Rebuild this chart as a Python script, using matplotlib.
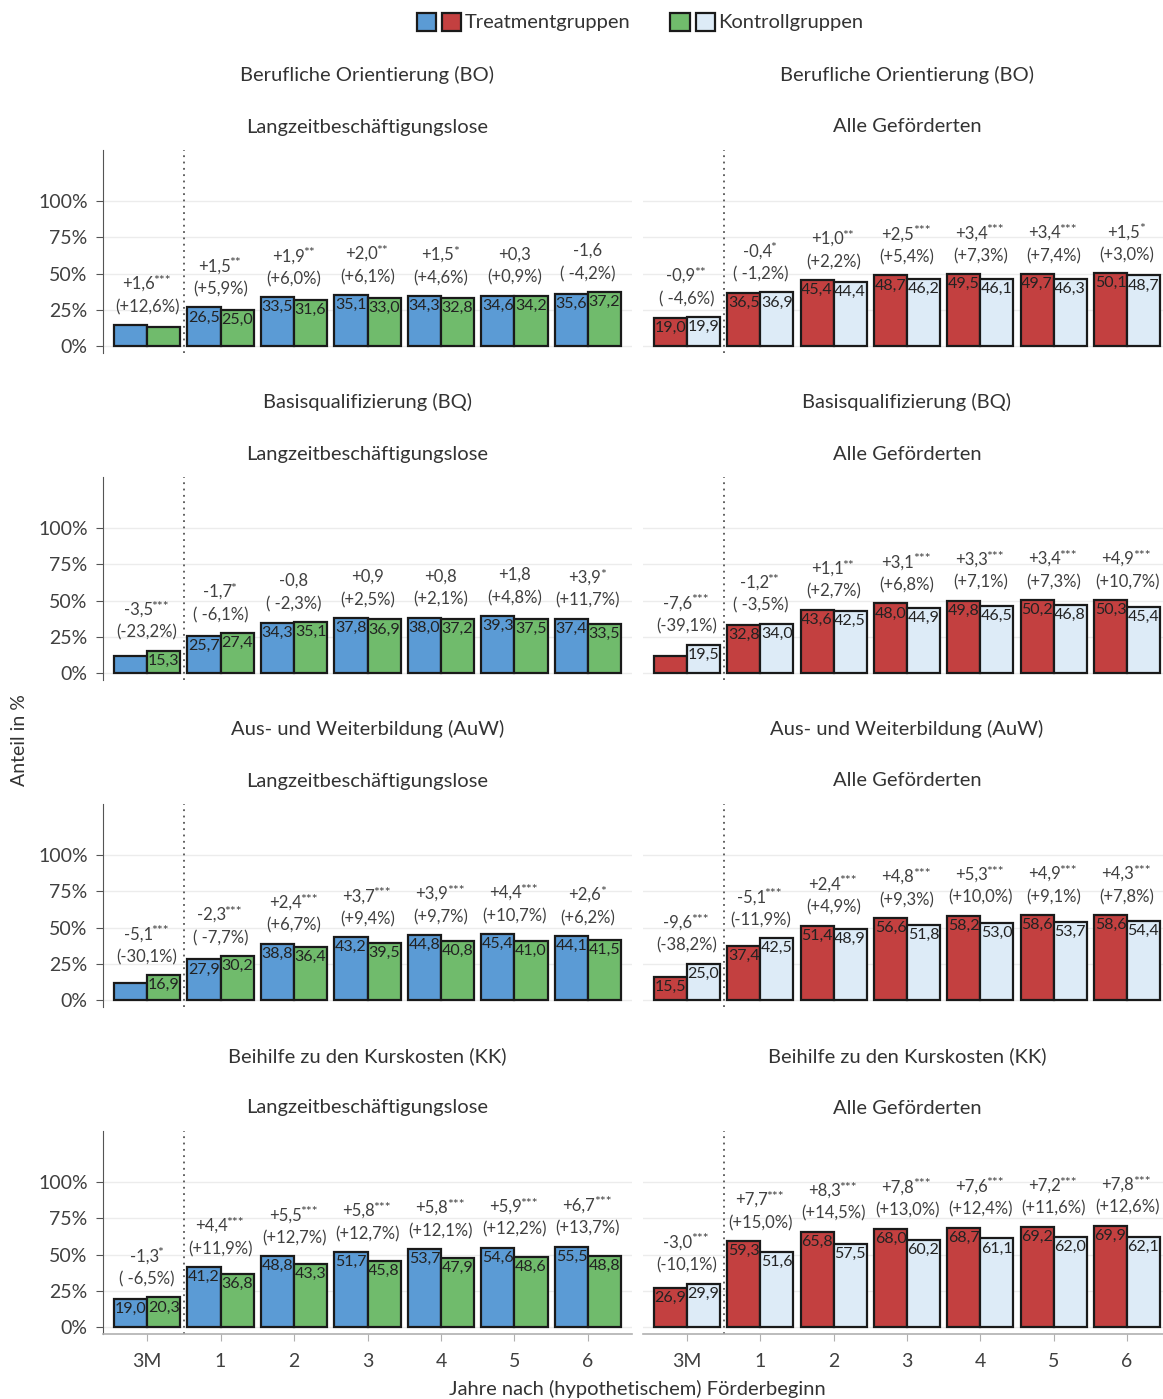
import matplotlib
matplotlib.use("Agg")
import matplotlib.pyplot as plt
from matplotlib.patches import Patch
from matplotlib.legend_handler import HandlerTuple

plt.rcParams['font.family'] = ['Lato', 'DejaVu Sans']

# Achsenbeschriftung der Gruppen
perioden = ["3M", "1", "2", "3", "4", "5", "6"]

programme = ["Berufliche Orientierung (BO)", "Basisqualifizierung (BQ)",
             "Aus- und Weiterbildung (AuW)", "Beihilfe zu den Kurskosten (KK)"]
gruppen = ["Langzeitbeschäftigungslose", "Alle Geförderten"]

# Langzeitbeschäftigungslose (links): Treatment / Kontrolle
bo_lzb_t = [14.3, 26.5, 33.5, 35.1, 34.3, 34.6, 35.6]
bo_lzb_k = [12.7, 25.0, 31.6, 33.0, 32.8, 34.2, 37.2]
bo_lzb_d = ["+1,6***", "+1,5**", "+1,9**", "+2,0**", "+1,5*", "+0,3", "-1,6"]
bo_lzb_p = ["(+12,6%)", "(+5,9%)", "(+6,0%)", "(+6,1%)", "(+4,6%)", "(+0,9%)", "( -4,2%)"]

bq_lzb_t = [11.8, 25.7, 34.3, 37.8, 38.0, 39.3, 37.4]
bq_lzb_k = [15.3, 27.4, 35.1, 36.9, 37.2, 37.5, 33.5]
bq_lzb_d = ["-3,5***", "-1,7*", "-0,8", "+0,9", "+0,8", "+1,8", "+3,9*"]
bq_lzb_p = ["(-23,2%)", "( -6,1%)", "( -2,3%)", "(+2,5%)", "(+2,1%)", "(+4,8%)", "(+11,7%)"]

auw_lzb_t = [11.8, 27.9, 38.8, 43.2, 44.8, 45.4, 44.1]
auw_lzb_k = [16.9, 30.2, 36.4, 39.5, 40.8, 41.0, 41.5]
auw_lzb_d = ["-5,1***", "-2,3***", "+2,4***", "+3,7***", "+3,9***", "+4,4***", "+2,6*"]
auw_lzb_p = ["(-30,1%)", "( -7,7%)", "(+6,7%)", "(+9,4%)", "(+9,7%)", "(+10,7%)", "(+6,2%)"]

kk_lzb_t = [19.0, 41.2, 48.8, 51.7, 53.7, 54.6, 55.5]
kk_lzb_k = [20.3, 36.8, 43.3, 45.8, 47.9, 48.6, 48.8]
kk_lzb_d = ["-1,3*", "+4,4***", "+5,5***", "+5,8***", "+5,8***", "+5,9***", "+6,7***"]
kk_lzb_p = ["( -6,5%)", "(+11,9%)", "(+12,7%)", "(+12,7%)", "(+12,1%)", "(+12,2%)", "(+13,7%)"]

# Alle Geförderten (rechts)
bo_alle_t = [19.0, 36.5, 45.4, 48.7, 49.5, 49.7, 50.1]
bo_alle_k = [19.9, 36.9, 44.4, 46.2, 46.1, 46.3, 48.7]
bo_alle_d = ["-0,9**", "-0,4*", "+1,0**", "+2,5***", "+3,4***", "+3,4***", "+1,5*"]
bo_alle_p = ["( -4,6%)", "( -1,2%)", "(+2,2%)", "(+5,4%)", "(+7,3%)", "(+7,4%)", "(+3,0%)"]

bq_alle_t = [11.9, 32.8, 43.6, 48.0, 49.8, 50.2, 50.3]
bq_alle_k = [19.5, 34.0, 42.5, 44.9, 46.5, 46.8, 45.4]
bq_alle_d = ["-7,6***", "-1,2**", "+1,1**", "+3,1***", "+3,3***", "+3,4***", "+4,9***"]
bq_alle_p = ["(-39,1%)", "( -3,5%)", "(+2,7%)", "(+6,8%)", "(+7,1%)", "(+7,3%)", "(+10,7%)"]

auw_alle_t = [15.5, 37.4, 51.4, 56.6, 58.2, 58.6, 58.6]
auw_alle_k = [25.0, 42.5, 48.9, 51.8, 53.0, 53.7, 54.4]
auw_alle_d = ["-9,6***", "-5,1***", "+2,4***", "+4,8***", "+5,3***", "+4,9***", "+4,3***"]
auw_alle_p = ["(-38,2%)", "(-11,9%)", "(+4,9%)", "(+9,3%)", "(+10,0%)", "(+9,1%)", "(+7,8%)"]

kk_alle_t = [26.9, 59.3, 65.8, 68.0, 68.7, 69.2, 69.9]
kk_alle_k = [29.9, 51.6, 57.5, 60.2, 61.1, 62.0, 62.1]
kk_alle_d = ["-3,0***", "+7,7***", "+8,3***", "+7,8***", "+7,6***", "+7,2***", "+7,8***"]
kk_alle_p = ["(-10,1%)", "(+15,0%)", "(+14,5%)", "(+13,0%)", "(+12,4%)", "(+11,6%)", "(+12,6%)"]

panels = [
    [(bo_lzb_t, bo_lzb_k, bo_lzb_d, bo_lzb_p), (bo_alle_t, bo_alle_k, bo_alle_d, bo_alle_p)],
    [(bq_lzb_t, bq_lzb_k, bq_lzb_d, bq_lzb_p), (bq_alle_t, bq_alle_k, bq_alle_d, bq_alle_p)],
    [(auw_lzb_t, auw_lzb_k, auw_lzb_d, auw_lzb_p), (auw_alle_t, auw_alle_k, auw_alle_d, auw_alle_p)],
    [(kk_lzb_t, kk_lzb_k, kk_lzb_d, kk_lzb_p), (kk_alle_t, kk_alle_k, kk_alle_d, kk_alle_p)],
]

farben = [("#5b9bd5", "#70bb6c"), ("#c34040", "#ddebf7")]
TXT = "#333333"
ANN = "#404040"
EC = "#1a1a1a"

W, H = 1163, 1399
fig = plt.figure(figsize=(W / 100, H / 100), dpi=100)

row_top = [150, 477, 804, 1131]
col_x = [(103, 529), (643, 528)]
ax_h = 203
bw = 0.45
x = list(range(len(perioden)))

for r in range(4):
    for c in range(2):
        left, width = col_x[c]
        ax = fig.add_axes([left / W, 1 - (row_top[r] + ax_h) / H, width / W, ax_h / H])
        t, k, d, p = panels[r][c]
        ft, fk = farben[c]
        xt = [i - bw / 2 for i in x]
        xk = [i + bw / 2 for i in x]
        ax.bar(xt, t, width=bw, color=ft, edgecolor=EC, linewidth=1.6, zorder=3)
        ax.bar(xk, k, width=bw, color=fk, edgecolor=EC, linewidth=1.6, zorder=3)
        for i in x:
            for xx, v in ((xt[i], t[i]), (xk[i], k[i])):
                if v >= 15:
                    ax.annotate(f"{v:.1f}".replace(".", ","), xy=(xx, v), xytext=(0, -3),
                                textcoords="offset pixels", ha="center", va="top",
                                fontsize=11.5, color="#222222", zorder=4)
            # Differenz in Prozentpunkten (Zeile 1) und relativ (Zeile 2)
            zahl = d[i].rstrip("*")
            sterne = d[i][len(zahl):]
            pct = ax.annotate(p[i], xy=(i, max(t[i], k[i])), xytext=(0, 10),
                              textcoords="offset pixels", ha="center", va="bottom",
                              fontsize=12, color=ANN, zorder=4)
            num = ax.annotate(zahl, xy=(0.5, 1), xycoords=pct,
                              xytext=(-3 * len(sterne), 7), textcoords="offset pixels",
                              ha="center", va="bottom", fontsize=12, color=ANN, zorder=4)
            if sterne:
                ax.annotate(sterne, xy=(1, 1), xycoords=num, xytext=(-1.5, 1),
                            textcoords="offset pixels", ha="left", va="top",
                            fontsize=10, color=ANN, zorder=4)
        ax.axvline(0.5, color="#555555", lw=1.3, ls=(0, (1, 2.5)), zorder=2)
        ax.set_xlim(-0.6, 6.6)
        ax.set_ylim(-5, 135.5)
        ax.set_yticks([0, 25, 50, 75, 100])
        ax.grid(axis="y", color="#ececec", lw=1, zorder=0)
        for s in ("top", "right"):
            ax.spines[s].set_visible(False)
        if c == 0:
            ax.spines["left"].set_color("#555555")
            ax.set_yticklabels(["0%", "25%", "50%", "75%", "100%"], fontsize=14, color=ANN)
            ax.tick_params(axis="y", length=5, color="#555555", pad=6)
        else:
            ax.spines["left"].set_visible(False)
            ax.tick_params(axis="y", left=False, labelleft=False)
        if r == 3:
            ax.spines["bottom"].set_color("#b0b0b0")
            ax.spines["bottom"].set_linewidth(1.2)
            ax.set_xticks(x)
            ax.set_xticklabels(perioden, fontsize=14, color=ANN)
            ax.tick_params(axis="x", length=5, color="#b0b0b0", pad=9)
        else:
            ax.spines["bottom"].set_visible(False)
            ax.tick_params(axis="x", bottom=False, labelbottom=False)
        ax.annotate(gruppen[c], xy=(0.5, 1), xycoords="axes fraction", xytext=(0, 23),
                    textcoords="offset pixels", ha="center", va="center",
                    fontsize=14.5, color=TXT)
        ax.annotate(programme[r], xy=(0.5, 1), xycoords="axes fraction", xytext=(0, 75),
                    textcoords="offset pixels", ha="center", va="center",
                    fontsize=14.5, color=TXT)

fig.text(637 / W, 1 - 1389 / H, "Jahre nach (hypothetischem) Förderbeginn",
         ha="center", va="center", fontsize=14.5, color=TXT)
fig.text(20 / W, 1 - 740 / H, "Anteil in %", ha="center", va="center",
         rotation=90, fontsize=14, color=TXT)

h_t = (Patch(fc=farben[0][0], ec=EC, lw=1.6), Patch(fc=farben[1][0], ec=EC, lw=1.6))
h_k = (Patch(fc=farben[0][1], ec=EC, lw=1.6), Patch(fc=farben[1][1], ec=EC, lw=1.6))
fig.legend([h_t, h_k], ["Treatmentgruppen", "Kontrollgruppen"],
           handler_map={tuple: HandlerTuple(ndivide=None, pad=0.3)},
           loc="center", bbox_to_anchor=(640 / W, 1 - 22 / H), ncol=2, frameon=False,
           fontsize=14.5, handlelength=2.2, handleheight=1.0, handletextpad=0.15,
           columnspacing=2.0, labelcolor=TXT)

fig.savefig("out.png", dpi=100)
